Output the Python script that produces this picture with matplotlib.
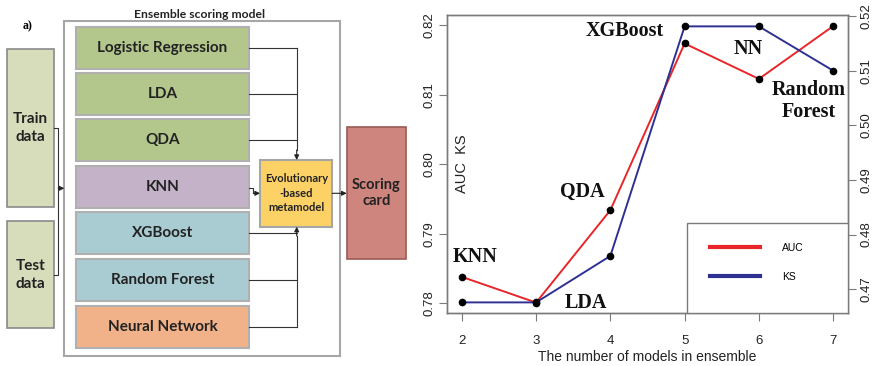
import numpy as np
import matplotlib
matplotlib.use("Agg")
import matplotlib.pyplot as plt
from matplotlib.patches import Rectangle

# data
n_models = [2, 3, 4, 5, 6, 7]
auc = [0.7838, 0.7801, 0.7934, 0.8174, 0.8123, 0.8199]
ks = [0.4676, 0.4676, 0.4761, 0.5181, 0.5181, 0.5100]
auc_ticks = [0.78, 0.79, 0.80, 0.81, 0.82]
ks_ticks = [0.47, 0.48, 0.49, 0.50, 0.51, 0.52]

# labels on the line chart: (text, series, index, offset in pixels)
point_labels = [
    ("KNN", "auc", 0, (13, 20)),
    ("LDA", "auc", 1, (50, 0)),
    ("QDA", "auc", 2, (-28, 18)),
    ("XGBoost", "ks", 3, (-60, -5)),
    ("NN", "auc", 4, (-11, 30)),
    ("Random\nForest", "ks", 5, (-24, -30)),
]

# diagram boxes (pixel layout of the left panel)
model_names = ["Logistic Regression", "LDA", "QDA", "KNN", "XGBoost",
               "Random Forest", "Neural Network"]
model_colors = ["#b3c68c", "#b3c68c", "#b3c68c", "#c4b3c8", "#a9ccd3",
                "#a9ccd3", "#f2b289"]
model_top = [26.7, 72.7, 119, 165.7, 212.3, 259, 305.7]
model_h = 42

W, H = 875, 366
fig = plt.figure(figsize=(W / 100, H / 100), dpi=100)

# ---------- left: diagram ----------
d = fig.add_axes([0, 0, 1, 1])
d.set_xlim(0, W)
d.set_ylim(H, 0)
d.axis("off")

diag_font = ["Lato", "DejaVu Sans"]
edge = "#b0b0b0"

def box(x0, y0, x1, y1, fc, ec=edge, lw=1.5):
    d.add_patch(Rectangle((x0, y0), x1 - x0, y1 - y0, fc=fc, ec=ec, lw=lw))

def arrow(x0, y0, x1, y1):
    d.annotate("", xy=(x1, y1), xytext=(x0, y0),
               arrowprops=dict(arrowstyle="-|>", color="#222222", lw=0.8,
                               mutation_scale=7, shrinkA=0, shrinkB=0))

d.text(28, 26, "a)", ha="center", va="center", fontsize=8.5,
       fontweight="bold", family=["Liberation Serif"])
d.text(200, 14, "Ensemble scoring model", ha="center", va="center",
       fontsize=8.7, fontweight="bold", family=diag_font, color="#222222")
box(64.3, 21, 340, 356, "white", ec="#a6a6a6", lw=1.5)

box(7.3, 49.3, 54, 206.7, "#d7dcbb", ec="#8a8a8a", lw=1.2)
box(7.3, 220.7, 54, 328.3, "#d7dcbb", ec="#8a8a8a", lw=1.2)
d.text(30.5, 128, "Train\ndata", ha="center", va="center", fontsize=11,
       fontweight="bold", family=diag_font, linespacing=1.35, color="#222222")
d.text(30.5, 275, "Test\ndata", ha="center", va="center", fontsize=11,
       fontweight="bold", family=diag_font, linespacing=1.35, color="#222222")

# bracket joining train and test data
d.plot([54, 58.3, 58.3, 54], [128, 128, 275, 275], color="#333333", lw=0.8)
arrow(58.3, 188.3, 64.3, 188.3)

for name, c, top in zip(model_names, model_colors, model_top):
    box(76, top, 249, top + model_h, c)
    d.text(162.5, top + model_h / 2, name, ha="center", va="center",
           fontsize=11, fontweight="bold", family=diag_font, color="#222222")

cx = 296.7
for top in model_top[:3] + model_top[4:]:
    yc = top + model_h / 2
    d.plot([249, cx], [yc, yc], color="#333333", lw=0.8)
d.plot([cx, cx], [model_top[0] + model_h / 2, 150], color="#333333", lw=0.8)
arrow(cx, 150, cx, 160)
d.plot([cx, cx], [model_top[6] + model_h / 2, 236], color="#333333", lw=0.8)
arrow(cx, 236, cx, 226.7)
d.plot([249, 253.3, 253.3], [187.7, 187.7, 193.3], color="#333333", lw=0.8)
arrow(253.3, 193.3, 260, 193.3)

box(260, 160, 332.3, 226.7, "#fcd166", ec="#a6a6a6", lw=1.5)
d.text(296.2, 193.3, "Evolutionary\n-based\nmetamodel", ha="center",
       va="center", fontsize=8, fontweight="bold", family=diag_font,
       linespacing=1.4, color="#222222")
arrow(332.3, 193.3, 346.7, 193.3)

box(346.7, 127.3, 405.7, 259.3, "#cd857d", ec="#9a5a52", lw=1.2)
d.text(376.2, 193, "Scoring\ncard", ha="center", va="center", fontsize=10.5,
       fontweight="bold", family=diag_font, linespacing=1.25, color="#222222")

# ---------- right: line chart ----------
sans = ["Liberation Sans", "DejaVu Sans"]
gray = "#7a7a7a"
ax = fig.add_axes([447 / W, 1 - 313 / H, 401 / W, 298 / H])
ax2 = ax.twinx()

ax.plot(n_models, auc, color="#e8262a", lw=1.4, zorder=2)
ax2.plot(n_models, ks, color="#2e3192", lw=1.4, zorder=2)
ax.plot(n_models, auc, "o", color="black", ms=4.5, zorder=3)
ax2.plot(n_models, ks, "o", color="black", ms=4.5, zorder=3)

ax.set_xlim(1.8, 7.2)
ax.set_ylim(0.7786, 0.8215)
ax2.set_ylim(0.46566, 0.52018)

ax.set_xticks(n_models)
ax.set_yticks(auc_ticks)
ax2.set_yticks(ks_ticks)
ax.set_xticklabels([str(n) for n in n_models], family=sans, fontsize=9.5)
ax.set_yticklabels(["%.2f" % v for v in auc_ticks], family=sans, fontsize=9.5,
                   rotation=90, va="center")
ax2.set_yticklabels(["%.2f" % v for v in ks_ticks], family=sans, fontsize=9.5,
                    rotation=90, va="center")
ax.tick_params(axis="x", length=6, color=gray, pad=10, labelcolor="#222222")
ax.tick_params(axis="y", length=6, color=gray, pad=2, labelcolor="#222222")
ax2.tick_params(axis="y", length=6, color=gray, pad=3, labelcolor="#222222")
for a in (ax, ax2):
    for s in a.spines.values():
        s.set_color(gray)
        s.set_linewidth(1)

ax.set_xlabel("The number of models in ensemble", family=sans, fontsize=10,
              labelpad=2, color="#222222")
ax.text(0.037, 0.5, "AUC  KS", transform=ax.transAxes, rotation=90,
        ha="center", va="center", family=sans, fontsize=10.5, color="#222222")

for text, series, i, off in point_labels:
    a = ax if series == "auc" else ax2
    vals = auc if series == "auc" else ks
    a.annotate(text, xy=(n_models[i], vals[i]), xytext=off,
               textcoords="offset pixels", ha="center", va="center",
               fontsize=14.5, fontweight="bold", family=["Liberation Serif"],
               linespacing=1.12, color="#111111")

# legend box in the lower right
ax2.add_patch(Rectangle((0.5985, 0), 0.4015, 0.302, transform=ax2.transAxes,
                        fc="white", ec=gray, lw=1, zorder=4))
handles = [plt.Line2D([], [], color="#e8262a", lw=3),
           plt.Line2D([], [], color="#2e3192", lw=3)]
leg = ax2.legend(handles, ["AUC", "KS"], loc="upper left",
                 bbox_to_anchor=(0.656, 0.235), frameon=False, borderpad=0,
                 borderaxespad=0, handlelength=4.8, handletextpad=2.1,
                 labelspacing=1.8, prop={"family": sans, "size": 7.5})
leg.set_zorder(5)

fig.savefig("out.png", dpi=100)
